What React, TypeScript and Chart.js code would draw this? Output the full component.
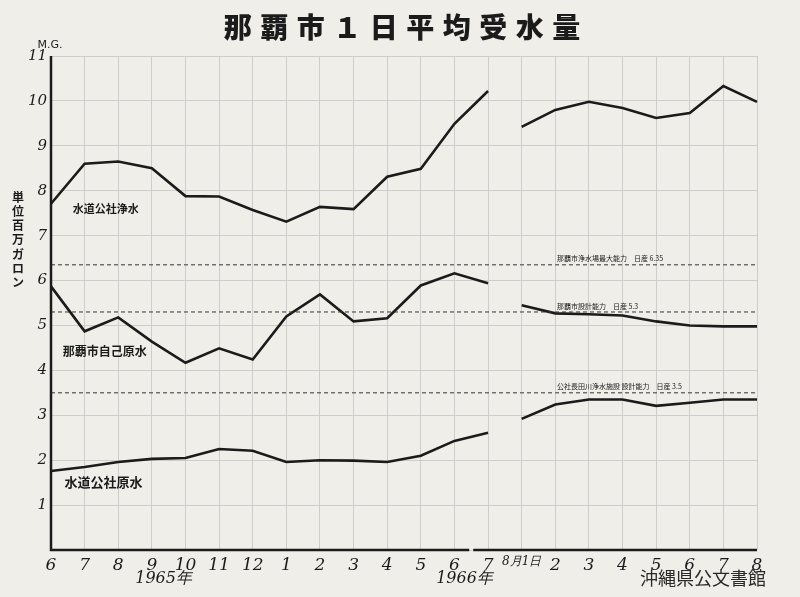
import React, { useEffect, useRef } from "react";
import { Chart, registerables } from "chart.js";

Chart.register(...registerables);

const categories = ["6", "7", "8", "9", "10", "11", "12", "1", "2", "3", "4", "5", "6", "7", "8月1日", "2", "3", "4", "5", "6", "7", "8"];
const yTicks = [0, 1, 2, 3, 4, 5, 6, 7, 8, 9, 10, 11];

const koshaJosui = [7.71, 8.6, 8.65, 8.5, 7.88, 7.87, 7.57, 7.31, 7.64, 7.59, 8.31, 8.49, 9.49, 10.22, 9.42, 9.8, 9.98, 9.84, 9.62, 9.73, 10.33, 9.98];
const nahaJiko = [5.87, 4.87, 5.18, 4.64, 4.17, 4.49, 4.24, 5.2, 5.69, 5.09, 5.16, 5.89, 6.16, 5.94, 5.45, 5.27, 5.25, 5.22, 5.09, 5.0, 4.98, 4.98];
const koshaGensui = [1.76, 1.85, 1.96, 2.03, 2.05, 2.25, 2.21, 1.96, 2.0, 1.99, 1.96, 2.1, 2.43, 2.61, 2.92, 3.24, 3.35, 3.35, 3.21, 3.28, 3.35, 3.35];

const seriesNames = ["水道公社浄水", "那覇市自己原水", "水道公社原水"];
const refValues = [6.35, 5.3, 3.5];
const refLabels = ["那覇市浄水場最大能力　日産 6.35", "那覇市設計能力　日産 5.3", "公社長田川浄水施設 設計能力　日産 3.5"];

const title = "那覇市１日平均受水量";
const yUnit = "M.G.";
const yTitle = "単位百万ガロン";
const yearLabels = ["1965年", "1966年"];
const watermark = "沖縄県公文書館";

const BREAK_INDEX = 13; // segment between index 13 and 14 is not drawn
const INK = "#1b1b1b";

const textPlugin = {
  id: "texts",
  afterDraw(chart: any) {
    const ctx = chart.ctx;
    const x = chart.scales.x;
    const y = chart.scales.y;
    ctx.save();
    ctx.fillStyle = INK;
    ctx.textBaseline = "middle";

    // title, spaced characters
    ctx.font = '900 28px "Noto Sans CJK JP"';
    ctx.textAlign = "center";
    const chars = Array.from(title);
    const step = 36.5;
    const cx = 402;
    chars.forEach((c, i) => {
      ctx.fillText(c, cx + (i - (chars.length - 1) / 2) * step, 27);
    });

    // unit
    ctx.font = '11px "DejaVu Sans"';
    ctx.fillText(yUnit, 50, 45);

    // vertical y title
    ctx.font = 'bold 12px "Noto Sans CJK JP"';
    Array.from(yTitle).forEach((c, i) => {
      ctx.fillText(c, 18, 197 + i * 14.3);
    });

    // series labels
    ctx.textAlign = "left";
    ctx.font = 'bold 11px "Noto Sans CJK JP"';
    ctx.fillText(seriesNames[0], x.getPixelForValue(0.65), y.getPixelForValue(7.6));
    ctx.font = 'bold 12px "Noto Sans CJK JP"';
    ctx.fillText(seriesNames[1], x.getPixelForValue(0.35), y.getPixelForValue(4.42));
    ctx.font = 'bold 13px "Noto Sans CJK JP"';
    ctx.fillText(seriesNames[2], x.getPixelForValue(0.4), y.getPixelForValue(1.52));

    // reference line labels
    ctx.font = '7px "Noto Sans CJK JP"';
    refValues.forEach((v, i) => {
      ctx.fillText(refLabels[i], x.getPixelForValue(15.05), y.getPixelForValue(v) - 6);
    });

    // year labels
    ctx.textAlign = "center";
    ctx.font = 'italic 16px "DejaVu Serif"';
    ctx.fillText(yearLabels[0], x.getPixelForValue(3.35), 579);
    ctx.fillText(yearLabels[1], x.getPixelForValue(12.3), 579);

    // watermark
    ctx.textAlign = "left";
    ctx.fillStyle = "#2a2a2a";
    ctx.font = '18px "Noto Sans CJK JP"';
    ctx.fillText(watermark, 640, 578);

    // axes lines
    ctx.strokeStyle = INK;
    ctx.lineWidth = 2.5;
    ctx.beginPath();
    ctx.moveTo(chart.chartArea.left, chart.chartArea.top);
    ctx.lineTo(chart.chartArea.left, chart.chartArea.bottom);
    const gap = x.getPixelForValue(12.5);
    ctx.lineTo(gap - 2, chart.chartArea.bottom);
    ctx.moveTo(gap + 2, chart.chartArea.bottom);
    ctx.lineTo(chart.chartArea.right, chart.chartArea.bottom);
    ctx.stroke();
    ctx.restore();
  },
};

const bgPlugin = {
  id: "bg",
  beforeDraw(chart: any) {
    const ctx = chart.ctx;
    ctx.save();
    ctx.fillStyle = "#efeee9";
    ctx.fillRect(0, 0, chart.width, chart.height);
    ctx.restore();
  },
};

function seriesDataset(data: number[]) {
  return {
    data,
    borderColor: INK,
    borderWidth: 2.6,
    pointRadius: 0,
    tension: 0,
    segment: {
      borderColor: (c: any) => (c.p0DataIndex === BREAK_INDEX ? "rgba(0,0,0,0)" : INK),
    },
  };
}

function refDataset(v: number) {
  return {
    data: categories.map(() => v),
    borderColor: "#333",
    borderWidth: 1,
    borderDash: [4, 3],
    pointRadius: 0,
  };
}

export default function App() {
  const ref = useRef<HTMLCanvasElement>(null);
  useEffect(() => {
    const chart = new Chart(ref.current!, {
      type: "line",
      data: {
        labels: categories,
        datasets: [
          ...refValues.map(refDataset),
          seriesDataset(koshaJosui),
          seriesDataset(nahaJiko),
          seriesDataset(koshaGensui),
        ] as any,
      },
      options: {
        animation: false,
        responsive: false,
        maintainAspectRatio: false,
        layout: { padding: { left: 0, right: 43, top: 56, bottom: 0 } },
        plugins: { legend: { display: false }, tooltip: { enabled: false } },
        scales: {
          x: {
            offset: false,
            grid: { color: "#cdcdcb", lineWidth: 1, drawTicks: false },
            border: { display: false },
            afterFit: (s: any) => {
              s.height = 47;
            },
            ticks: {
              autoSkip: false,
              maxRotation: 0,
              padding: 5,
              color: INK,
              font: (c: any) =>
                c.index === 14
                  ? { family: "DejaVu Serif", size: 12, style: "italic" }
                  : { family: "DejaVu Serif", size: 17, style: "italic" },
            },
          },
          y: {
            min: 0,
            max: 11,
            afterFit: (s: any) => {
              s.width = 51;
            },
            afterBuildTicks: (s: any) => {
              s.ticks = yTicks.map((v) => ({ value: v }));
            },
            grid: { color: "#cdcdcb", lineWidth: 1, drawTicks: false },
            border: { display: false },
            ticks: {
              padding: 4,
              color: INK,
              font: { family: "DejaVu Serif", size: 15, style: "italic" },
              callback: (v: any) => (v === 0 ? "" : String(v)),
            },
          },
        },
      },
      plugins: [bgPlugin, textPlugin],
    });
    return () => chart.destroy();
  }, []);
  return (
    <div style={{ position: "fixed", left: 0, top: 0, width: 800, height: 597, background: "#efeee9" }}>
      <canvas ref={ref} width={800} height={597} style={{ display: "block" }} />
    </div>
  );
}
